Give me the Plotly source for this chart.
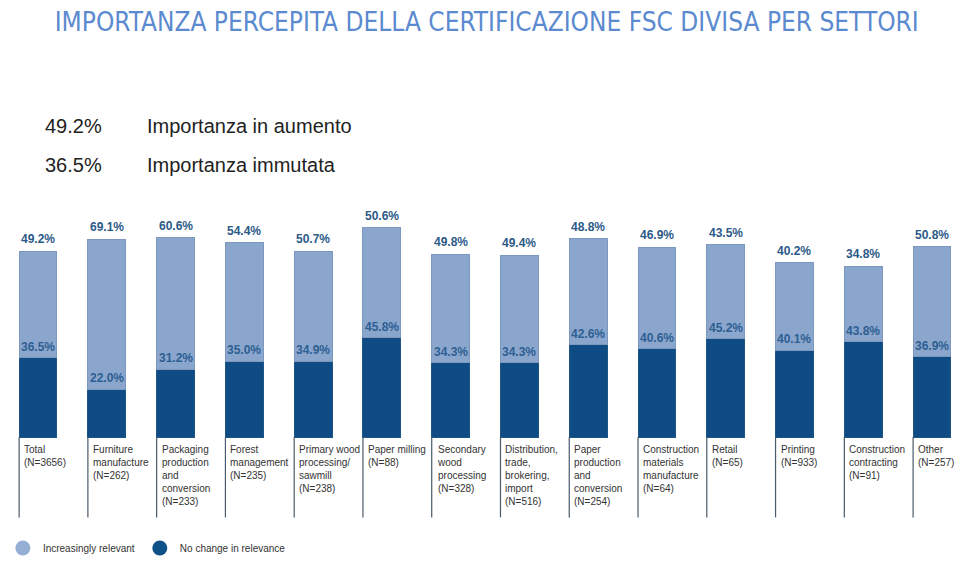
import plotly.graph_objects as go

title_text = "IMPORTANZA PERCEPITA DELLA CERTIFICAZIONE FSC DIVISA PER SETTORI"
categories = [
    "Total<br>(N=3656)",
    "Furniture<br>manufacture<br>(N=262)",
    "Packaging<br>production<br>and<br>conversion<br>(N=233)",
    "Forest<br>management<br>(N=235)",
    "Primary wood<br>processing/<br>sawmill<br>(N=238)",
    "Paper milling<br>(N=88)",
    "Secondary<br>wood<br>processing<br>(N=328)",
    "Distribution,<br>trade,<br>brokering,<br>import<br>(N=516)",
    "Paper<br>production<br>and<br>conversion<br>(N=254)",
    "Construction<br>materials<br>manufacture<br>(N=64)",
    "Retail<br>(N=65)",
    "Printing<br>(N=933)",
    "Construction<br>contracting<br>(N=91)",
    "Other<br>(N=257)",
]
no_change = [36.5, 22.0, 31.2, 35.0, 34.9, 45.8, 34.3, 34.3, 42.6, 40.6, 45.2, 40.1, 43.8, 36.9]
increasing = [49.2, 69.1, 60.6, 54.4, 50.7, 50.6, 49.8, 49.4, 48.8, 46.9, 43.5, 40.2, 34.8, 50.8]
series_names = ["Increasingly relevant", "No change in relevance"]
header_labels = ["Importanza in aumento", "Importanza immutata"]

LIGHT = "#8ba6cc"
DARK = "#0f4c86"
LABEL = "#2d5f93"

idx = list(range(len(categories)))
fig = go.Figure()
fig.add_trace(go.Bar(x=idx, y=no_change, marker=dict(color=DARK, line=dict(color="#1d5585", width=1)),
                     width=0.55, showlegend=False, hoverinfo="y"))
fig.add_trace(go.Bar(x=idx, y=increasing, marker=dict(color=LIGHT, line=dict(color="#7d98bf", width=1)),
                     width=0.55, showlegend=False, hoverinfo="y"))
fig.add_trace(go.Scatter(x=[None], y=[None], mode="markers", name=series_names[0],
                         marker=dict(symbol="circle", size=15, color="#94aed4")))
fig.add_trace(go.Scatter(x=[None], y=[None], mode="markers", name=series_names[1],
                         marker=dict(symbol="circle", size=15, color="#0e5088")))

annotations = []
shapes = []
for i in idx:
    top = no_change[i] + increasing[i]
    annotations.append(dict(x=i, y=top, xref="x", yref="y", text=f"{increasing[i]:.1f}%",
                            showarrow=False, yanchor="bottom", yshift=3,
                            font=dict(family="Arial", size=12, color="#2c5a88", weight="bold")))
    annotations.append(dict(x=i, y=no_change[i], xref="x", yref="y", text=f"{no_change[i]:.1f}%",
                            showarrow=False, yanchor="bottom", yshift=2,
                            font=dict(family="Arial", size=12, color=LABEL, weight="bold")))
    annotations.append(dict(x=i - 0.275, y=0, xref="x", yref="y", text=categories[i],
                            showarrow=False, xanchor="left", yanchor="top", align="left",
                            xshift=3, yshift=-5,
                            font=dict(family="Arial", size=10, color="#333333")))
    shapes.append(dict(type="line", xref="x", yref="y", x0=i - 0.275, x1=i - 0.275, y0=0, y1=-37,
                       line=dict(color="#4a5a6a", width=1.2)))

HF = "Arial"
for k, (val, lab) in enumerate([(increasing[0], header_labels[0]), (no_change[0], header_labels[1])]):
    yy = (520 - (126 + 39 * k)) / 320
    annotations.append(dict(xref="paper", yref="paper", x=43 / 960, y=yy,
                            text=f"{val:.1f}%", showarrow=False, xanchor="left", yanchor="middle",
                            font=dict(family=HF, size=20, color="#222222")))
    annotations.append(dict(xref="paper", yref="paper", x=145 / 960, y=yy,
                            text=lab, showarrow=False, xanchor="left", yanchor="middle",
                            font=dict(family=HF, size=20, color="#222222")))

fig.update_layout(
    width=960, height=563,
    margin=dict(l=0, r=0, t=200, b=43),
    barmode="stack",
    plot_bgcolor="white", paper_bgcolor="white",
    title=dict(text=title_text, x=0.507, xanchor="center", y=1 - 22 / 563, yanchor="middle",
               font=dict(family="DejaVu Sans Condensed, DejaVu Sans", size=26, color="#5b8ad0")),
    xaxis=dict(range=[-0.553, 13.407], visible=False),
    yaxis=dict(range=[-38.2, 109.2], visible=False),
    legend=dict(orientation="h", x=0.003, xanchor="left", y=-0.0875, yanchor="middle",
                traceorder="normal",
                font=dict(family="Arial", size=10, color="#333333"), itemwidth=30,
                bgcolor="rgba(0,0,0,0)"),
    annotations=annotations,
    shapes=shapes,
    showlegend=True,
)

fig.write_html("out.html", config={"displayModeBar": False},
               post_script="document.body.style.margin='0';")
